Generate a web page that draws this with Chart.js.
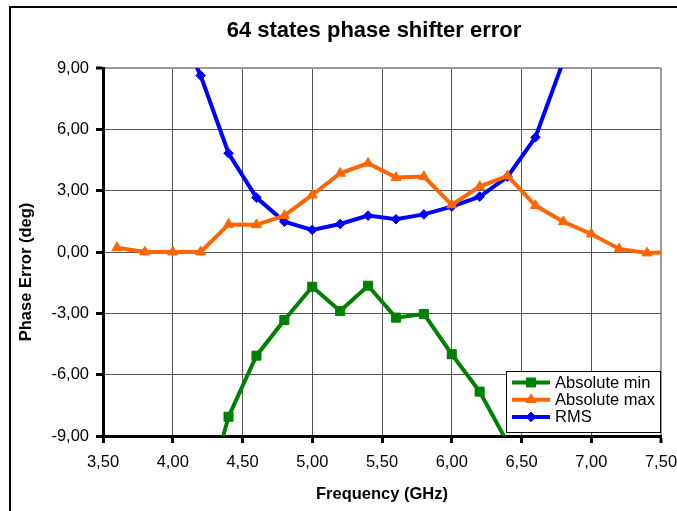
<!DOCTYPE html>
<html>
<head>
<meta charset="utf-8">
<title>64 states phase shifter error</title>
<script src="https://cdn.jsdelivr.net/npm/chart.js@4.4.1/dist/chart.umd.min.js"></script>
<style>
  html, body { margin: 0; padding: 0; background: #fff; overflow: hidden; }
  #phaseChart { display: block; }
</style>
</head>
<body>
<canvas id="phaseChart" width="677" height="511"></canvas>
<script>
// measured phase error per frequency point (deg)
const frequency   = [3.6, 3.8, 4.0, 4.2, 4.4, 4.6, 4.8, 5.0, 5.2, 5.4, 5.6, 5.8, 6.0, 6.2, 6.4, 6.6, 6.8, 7.0, 7.2, 7.4, 7.6];
const absoluteMin = [null, null, null, -13.0, -8.06, -5.07, -3.33, -1.70, -2.89, -1.65, -3.21, -3.03, -5.00, -6.83, -9.33, null, null, null, null, null, null];
const absoluteMax = [0.21, 0.0, 0.0, 0.0, 1.35, 1.33, 1.78, 2.79, 3.85, 4.34, 3.64, 3.69, 2.30, 3.20, 3.72, 2.27, 1.48, 0.88, 0.15, -0.05, 0.0];
const rmsError    = [null, null, 11.6, 8.63, 4.83, 2.66, 1.48, 1.08, 1.37, 1.78, 1.60, 1.84, 2.22, 2.71, 3.68, 5.61, 9.34, null, null, null, null];

const xTicks = [3.5, 4.0, 4.5, 5.0, 5.5, 6.0, 6.5, 7.0, 7.5];
const yTicks = [-9, -6, -3, 0, 3, 6, 9];

const chartTitle = '64 states phase shifter error';
const xTitle = 'Frequency (GHz)';
const yTitle = 'Phase Error (deg)';

const FONT = '"Liberation Sans", Arial, sans-serif';

// decimal comma, two places
const fmt = v => Number(v).toFixed(2).replace('.', ',');

function toPoints(values) {
    return frequency.map((f, i) => ({ x: f, y: values[i] }));
}

function series(label, values, color, style, radius) {
    return {
        label: label,
        data: toPoints(values),
        borderColor: color,
        backgroundColor: color,
        borderWidth: 4,
        pointStyle: style,
        pointRadius: radius,
        pointBorderWidth: 1,
        pointBorderColor: color,
        pointBackgroundColor: color,
        tension: 0,
        spanGaps: false
    };
}

// outer frame (top and left edges only, the rest runs off the canvas)
const outerFrame = {
    id: 'outerFrame',
    beforeDraw(chart) {
        const ctx = chart.ctx;
        ctx.save();
        ctx.fillStyle = '#000';
        ctx.fillRect(9, 6, chart.width - 9, 2);
        ctx.fillRect(9, 6, 2, chart.height - 6);
        ctx.restore();
    }
};

// chart title and rotated y title
const frameText = {
    id: 'frameText',
    afterDraw(chart) {
        const ctx = chart.ctx;
        ctx.save();
        ctx.fillStyle = '#000';
        ctx.textAlign = 'center';
        ctx.textBaseline = 'alphabetic';
        ctx.font = 'bold 22px ' + FONT;
        ctx.fillText(chartTitle, 374, 37);
        ctx.translate(26, 272);
        ctx.rotate(-Math.PI / 2);
        ctx.textBaseline = 'middle';
        ctx.font = 'bold 16.5px ' + FONT;
        ctx.fillText(yTitle, 0, 0);
        ctx.restore();
    }
};

// boxed legend in the lower right corner of the plot area
const boxLegend = {
    id: 'boxLegend',
    afterDraw(chart) {
        const ctx = chart.ctx;
        const area = chart.chartArea;
        const w = 155, h = 62;
        const x0 = Math.round(area.right - w), y0 = Math.round(area.bottom - 3 - h);
        ctx.save();
        ctx.fillStyle = '#fff';
        ctx.fillRect(x0, y0, w, h);
        ctx.strokeStyle = '#000';
        ctx.lineWidth = 1;
        ctx.strokeRect(x0 + 0.5, y0 + 0.5, w - 1, h - 1);
        chart.data.datasets.forEach((ds, i) => {
            const cy = y0 + 11.5 + i * 17.2;
            ctx.strokeStyle = ds.borderColor;
            ctx.lineWidth = 4;
            ctx.beginPath();
            ctx.moveTo(x0 + 6, cy);
            ctx.lineTo(x0 + 44, cy);
            ctx.stroke();
            ctx.fillStyle = ds.borderColor;
            ctx.lineWidth = 1;
            Chart.helpers.drawPoint(ctx, { pointStyle: ds.pointStyle, radius: ds.pointRadius, borderWidth: 1, rotation: 0 }, x0 + 25, cy);
            ctx.fillStyle = '#000';
            ctx.font = '16.5px ' + FONT;
            ctx.textAlign = 'left';
            ctx.textBaseline = 'middle';
            ctx.fillText(ds.label, x0 + 49, cy + 1);
        });
        ctx.restore();
    }
};

// plot edge at the far end of each axis is a heavier light-grey line
const edgeColor = (c, last) => (c.tick && c.tick.value === last) ? '#9a9a9a' : '#555';
const edgeWidth = (c, last) => (c.tick && c.tick.value === last) ? 2 : 1;

window.onload = function() {
    const ctx = document.getElementById('phaseChart').getContext('2d');
    new Chart(ctx, {
        type: 'line',
        data: {
            datasets: [
                series('Absolute min', absoluteMin, '#008000', 'rect', 6.4),
                series('Absolute max', absoluteMax, '#FF6600', 'triangle', 5.8),
                series('RMS', rmsError, '#0000FF', 'rectRot', 4.8)
            ]
        },
        options: {
            responsive: false,
            animation: false,
            devicePixelRatio: 1,
            layout: { padding: { left: 0, top: 68, right: 16, bottom: 0 } },
            plugins: {
                legend: { display: false },
                title: { display: false },
                tooltip: { enabled: false }
            },
            scales: {
                x: {
                    type: 'linear',
                    min: 3.5,
                    max: 7.5,
                    afterBuildTicks: s => { s.ticks = xTicks.map(v => ({ value: v })); },
                    afterFit: s => { s.height = 75; s.paddingLeft = 0; s.paddingRight = 0; },
                    ticks: { callback: fmt, color: '#000', font: { family: FONT, size: 16.5 }, padding: 10, maxRotation: 0, autoSkip: false },
                    grid: {
                        color: c => edgeColor(c, 7.5),
                        lineWidth: c => edgeWidth(c, 7.5),
                        tickLength: 7,
                        tickColor: '#000',
                        tickWidth: 3
                    },
                    border: { display: true, color: '#000', width: 3 },
                    title: { display: true, text: xTitle, color: '#000', font: { family: FONT, size: 16.5, weight: 'bold' }, padding: { top: 0, bottom: 7 } }
                },
                y: {
                    type: 'linear',
                    min: -9,
                    max: 9,
                    afterBuildTicks: s => { s.ticks = yTicks.map(v => ({ value: v })); },
                    afterFit: s => { s.width = 103; s.paddingTop = 0; s.paddingBottom = 0; },
                    ticks: { callback: fmt, color: '#000', font: { family: FONT, size: 16.5 }, padding: 7 },
                    grid: {
                        color: c => edgeColor(c, 9),
                        lineWidth: c => edgeWidth(c, 9),
                        tickLength: 7,
                        tickColor: '#000',
                        tickWidth: 3
                    },
                    border: { display: true, color: '#000', width: 3 }
                }
            }
        },
        plugins: [outerFrame, frameText, boxLegend]
    });
};
</script>
</body>
</html>
